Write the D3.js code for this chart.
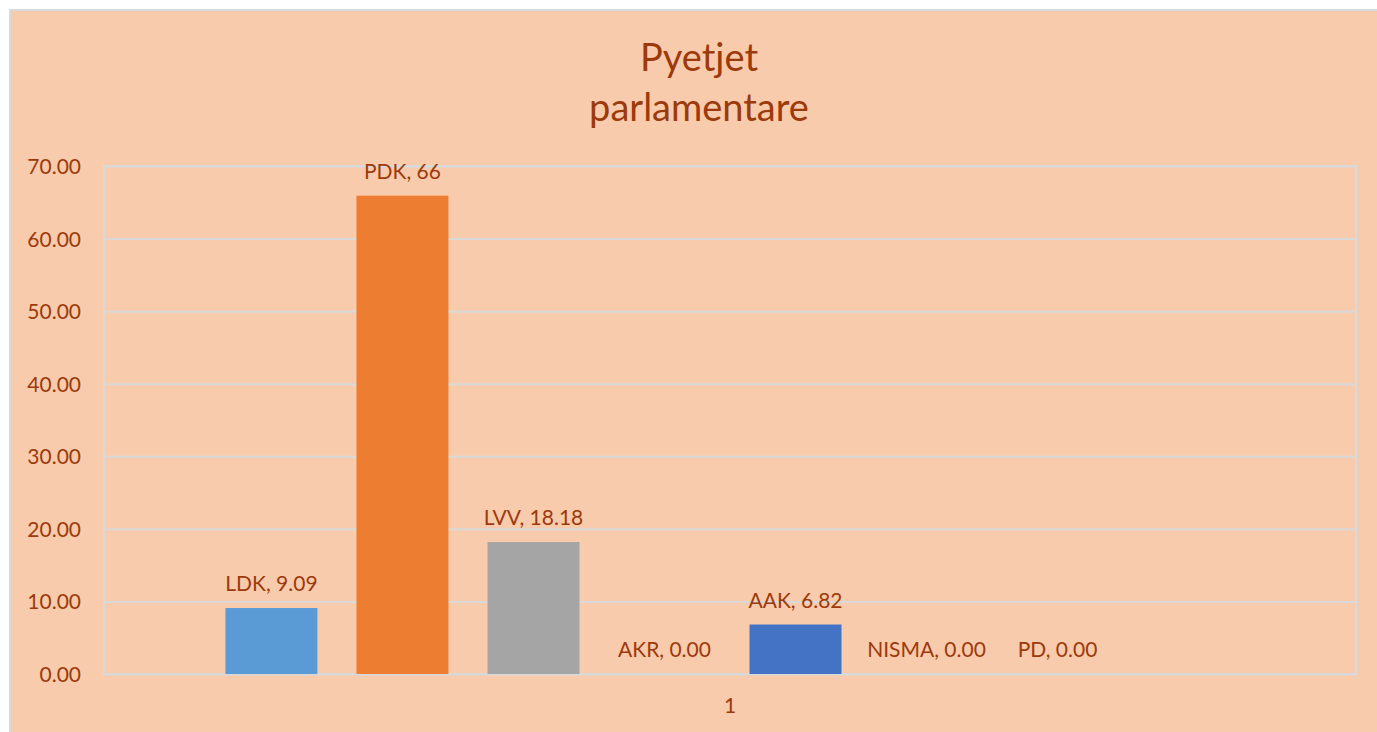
<!DOCTYPE html>
<html>
<head>
<meta charset="utf-8">
<script src="https://cdn.jsdelivr.net/npm/d3@7"></script>
<style>
  html, body { margin: 0; padding: 0; background: #ffffff; }
  svg { display: block; }
  text { font-family: Lato, "Open Sans", sans-serif; }
</style>
</head>
<body>
<svg id="chart" width="1377" height="732"></svg>
<script>
// ---- data ----
const titleLines = ["Pyetjet", "parlamentare"];
const categories = ["1"];
const seriesNames = ["LDK", "PDK", "LVV", "AKR", "AAK", "NISMA", "PD"];
const seriesValues = [9.09, 65.91, 18.18, 0.00, 6.82, 0.00, 0.00];
const valueLabels = ["9.09", "66", "18.18", "0.00", "6.82", "0.00", "0.00"];
const seriesColors = ["#5B9BD5", "#ED7D31", "#A5A5A5", "#FFC000", "#4472C4", "#70AD47", "#264478"];
const slotCount = 8; // the chart reserves one extra, empty series slot
const yTicks = [0, 10, 20, 30, 40, 50, 60, 70];

// ---- layout ----
const W = 1377, H = 732;
const plot = { left: 104, right: 1356, top: 166, bottom: 674 };
const textColor = "#9C3A0B";
const gridColor = "#D9D9D9";

const svg = d3.select("#chart");

// chart background & border
svg.append("rect")
  .attr("x", 10).attr("y", 10).attr("width", W).attr("height", H)
  .attr("fill", "#F8CBAD").attr("stroke", gridColor).attr("stroke-width", 2);

// title
svg.append("text")
  .attr("text-anchor", "middle")
  .attr("fill", textColor)
  .attr("font-size", 38)
  .selectAll("tspan").data(titleLines).join("tspan")
  .attr("x", 699)
  .attr("y", (d, i) => 71 + i * 50)
  .text(d => d);

// scales
const x0 = d3.scaleBand().domain(categories).range([plot.left, plot.right]).padding(0);
const slotDomain = d3.range(slotCount);
const x1 = d3.scaleBand().domain(slotDomain)
  .range([x0(categories[0]), x0(categories[0]) + x0.bandwidth()])
  .paddingInner(0.298).paddingOuter(0.927);
const y = d3.scaleLinear().domain([0, 70]).range([plot.bottom, plot.top]);

// gridlines
const gAxis = svg.append("g").attr("transform", `translate(${plot.left},0)`)
  .call(d3.axisLeft(y).tickValues(yTicks).tickSize(-(plot.right - plot.left)).tickFormat(d3.format(".2f")));
gAxis.select(".domain").remove();
gAxis.selectAll(".tick line").attr("stroke", gridColor).attr("stroke-width", 2);
gAxis.selectAll(".tick text")
  .attr("fill", textColor).attr("font-size", 21)
  .attr("x", -23).attr("dy", "0.36em")
  .style("font-family", "Lato, 'Open Sans', sans-serif");

// plot border (left & right verticals)
svg.append("rect")
  .attr("x", plot.left).attr("y", plot.top)
  .attr("width", plot.right - plot.left).attr("height", plot.bottom - plot.top)
  .attr("fill", "none").attr("stroke", gridColor).attr("stroke-width", 2);

// bars
const bars = seriesNames.map((n, i) => ({ name: n, value: seriesValues[i], label: valueLabels[i], color: seriesColors[i], slot: i }));
svg.append("g").selectAll("rect").data(bars).join("rect")
  .attr("x", d => x1(d.slot))
  .attr("width", x1.bandwidth())
  .attr("y", d => y(d.value))
  .attr("height", d => y(0) - y(d.value))
  .attr("fill", d => d.color);

// data labels
svg.append("g").selectAll("text").data(bars).join("text")
  .attr("x", d => x1(d.slot) + x1.bandwidth() / 2)
  .attr("y", d => y(d.value) - 17)
  .attr("text-anchor", "middle")
  .attr("fill", textColor)
  .attr("font-size", 21)
  .text(d => `${d.name}, ${d.label}`);

// category axis label
const xAxis = svg.append("g").attr("transform", `translate(0,${plot.bottom})`)
  .call(d3.axisBottom(x0).tickSize(0));
xAxis.select(".domain").remove();
xAxis.selectAll(".tick text")
  .attr("fill", textColor).attr("font-size", 21)
  .attr("y", 39).attr("dy", 0)
  .style("font-family", "Lato, 'Open Sans', sans-serif");
</script>
</body>
</html>
